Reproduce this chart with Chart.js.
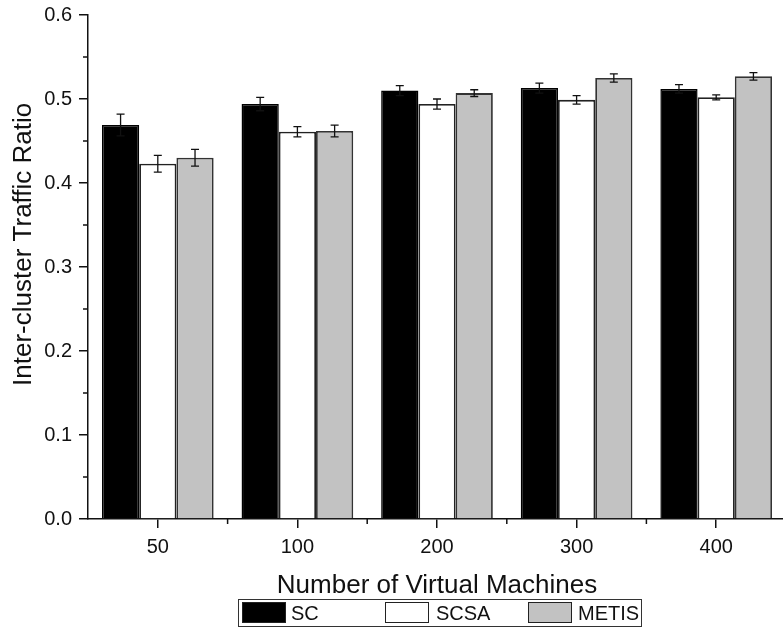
<!DOCTYPE html>
<html>
<head>
<meta charset="utf-8">
<script src="https://cdn.jsdelivr.net/npm/chart.js@4.4.1/dist/chart.umd.min.js"></script>
<style>
  body { margin: 0; background: #fff; overflow: hidden; }
  #wrap { position: relative; width: 783px; height: 633px; overflow: hidden; }
  #legend {
    position: absolute; left: 238px; top: 599px; width: 404px; height: 28px;
    border: 1px solid #333; box-sizing: border-box;
    font-family: "Liberation Sans", Arial, sans-serif; font-size: 20px; color: #111;
  }
  .sw { position: absolute; top: 2px; width: 44px; height: 21px; box-sizing: border-box; border: 1px solid #222; }
  .lt { position: absolute; top: 1px; line-height: 24px; }
</style>
</head>
<body>
<div id="wrap">
  <canvas id="chart" width="800" height="633"></canvas>
  <div id="legend"></div>
</div>
<script>
// categorias e valores
const categories = ["50", "100", "200", "300", "400"];
const seriesNames = ["SC", "SCSA", "METIS"];
const scValues = [0.469, 0.494, 0.510, 0.513, 0.512];
const scsaValues = [0.423, 0.461, 0.494, 0.499, 0.502];
const metisValues = [0.430, 0.462, 0.507, 0.525, 0.527];
const scErrors = [0.013, 0.008, 0.006, 0.006, 0.005];
const scsaErrors = [0.010, 0.006, 0.006, 0.005, 0.003];
const metisErrors = [0.010, 0.007, 0.004, 0.005, 0.0045];

const fills = ["#000000", "#ffffff", "#c2c2c2"];
const FONT = "'Liberation Sans', Arial, sans-serif";
const yTitle = "Inter-cluster Traffic Ratio";

// legenda em HTML com caixa
const legendEl = document.getElementById("legend");
const swLeft = [3, 146, 289];
const txtLeft = [52, 197, 339];
seriesNames.forEach(function (name, i) {
  const sw = document.createElement("div");
  sw.className = "sw";
  sw.style.left = swLeft[i] + "px";
  sw.style.background = fills[i];
  legendEl.appendChild(sw);
  const t = document.createElement("div");
  t.className = "lt";
  t.style.left = txtLeft[i] + "px";
  t.textContent = name;
  legendEl.appendChild(t);
});

// barras de erro, ticks menores e título do eixo y
const errorBars = {
  id: "errorBars",
  afterDatasetsDraw(chart) {
    const ctx = chart.ctx;
    const y = chart.scales.y;
    const errs = [scErrors, scsaErrors, metisErrors];
    ctx.save();
    ctx.strokeStyle = "#111";
    ctx.lineWidth = 1.3;
    chart.data.datasets.forEach(function (ds, i) {
      const meta = chart.getDatasetMeta(i);
      meta.data.forEach(function (bar, j) {
        const v = ds.data[j];
        const e = errs[i][j];
        const top = y.getPixelForValue(v + e);
        const bot = y.getPixelForValue(v - e);
        ctx.beginPath();
        ctx.moveTo(bar.x, top);
        ctx.lineTo(bar.x, bot);
        ctx.moveTo(bar.x - 4, top);
        ctx.lineTo(bar.x + 4, top);
        ctx.moveTo(bar.x - 4, bot);
        ctx.lineTo(bar.x + 4, bot);
        ctx.stroke();
      });
    });
    ctx.restore();
  },
  afterDraw(chart) {
    const ctx = chart.ctx;
    const x = chart.scales.x;
    const y = chart.scales.y;
    const area = chart.chartArea;
    ctx.save();
    ctx.strokeStyle = "#111";
    ctx.lineWidth = 1.5;
    ctx.beginPath();
    // menores no eixo y (0.05, 0.15, ...)
    for (let k = 0; k < 6; k++) {
      const py = y.getPixelForValue(k * 0.1 + 0.05);
      ctx.moveTo(area.left - 5, py);
      ctx.lineTo(area.left, py);
    }
    // menores no eixo x, entre categorias
    for (let k = 0; k < categories.length; k++) {
      const px = x.getPixelForValue(k) + (x.getPixelForValue(1) - x.getPixelForValue(0)) / 2;
      ctx.moveTo(px, area.bottom);
      ctx.lineTo(px, area.bottom + 5);
    }
    ctx.stroke();

    // título do eixo y, um pouco acima do centro como no original
    ctx.translate(24, y.getPixelForValue(0.327));
    ctx.rotate(-Math.PI / 2);
    ctx.fillStyle = "#111";
    ctx.font = "26px " + FONT;
    ctx.textAlign = "center";
    ctx.textBaseline = "middle";
    ctx.fillText(yTitle, 0, 0);
    ctx.restore();
  },
};

const ctx = document.getElementById("chart").getContext("2d");
const myChart = new Chart(ctx, {
  type: "bar",
  data: {
    labels: categories,
    datasets: [
      { label: seriesNames[0], data: scValues, backgroundColor: fills[0], borderColor: "#000", borderWidth: 1.5 },
      { label: seriesNames[1], data: scsaValues, backgroundColor: fills[1], borderColor: "#222", borderWidth: 1.8 },
      { label: seriesNames[2], data: metisValues, backgroundColor: fills[2], borderColor: "#333", borderWidth: 1.8 },
    ],
  },
  options: {
    responsive: false,
    animation: false,
    layout: { padding: { top: 15, right: 14, bottom: 32, left: 0 } },
    datasets: { bar: { categoryPercentage: 0.8, barPercentage: 1.0 } },
    plugins: {
      legend: { display: false },
      tooltip: { enabled: false },
    },
    scales: {
      x: {
        offset: true,
        grid: { offset: false, drawOnChartArea: false, drawTicks: true, tickLength: 9, color: "#111", lineWidth: 1.5 },
        border: { display: true, color: "#111", width: 1.5 },
        ticks: { color: "#111", font: { family: FONT, size: 20 }, padding: 7, maxRotation: 0 },
        title: { display: true, text: "Number of Virtual Machines", color: "#111", font: { family: FONT, size: 26 }, padding: { top: 0, bottom: 0 } },
        afterFit(scale) { scale.height = 82; },
      },
      y: {
        min: 0,
        max: 0.6,
        grid: { drawOnChartArea: false, drawTicks: true, tickLength: 9, color: "#111", lineWidth: 1.5 },
        border: { display: true, color: "#111", width: 1.5 },
        ticks: {
          stepSize: 0.1,
          color: "#111",
          font: { family: FONT, size: 20 },
          padding: 7,
          callback: function (v) { return Number(v).toFixed(1); },
        },
        title: { display: false },
        afterFit(scale) {
          scale.width = 88;
          scale.paddingTop = 0;
          scale.paddingBottom = 0;
        },
      },
    },
  },
  plugins: [errorBars],
});
</script>
</body>
</html>
